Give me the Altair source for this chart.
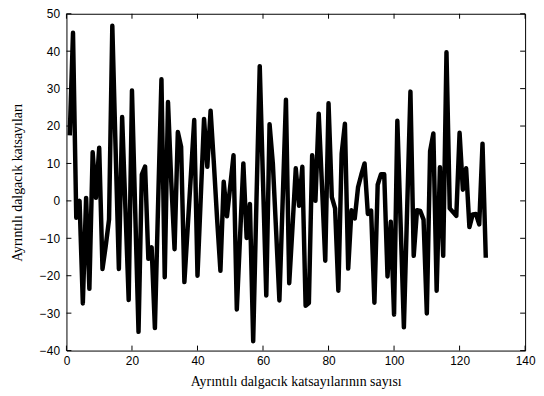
import altair as alt
import pandas as pd

index = list(range(1, 129))
coeffs = [17.5, 44.9, -4.5, 0.0, -27.4, 0.8, -23.5, 13.0, 0.8, 14.2,
          -18.2, -12.0, -5.0, 46.8, 14.0, -18.2, 22.4, -2.0, -26.5, 29.5,
          -3.0, -35.0, 7.0, 9.2, -15.5, -12.4, -34.0, 0.0, 32.5, -20.4,
          26.4, 5.0, -12.9, 18.4, 14.5, -21.7, -7.3, 7.1, 21.6, -20.0,
          1.0, 21.9, 9.1, 24.1, 10.0, -5.0, -18.7, 5.1, -4.1, 4.0,
          12.2, -29.0, -9.5, 10.0, -9.9, -0.8, -37.5, 0.0, 36.0, 5.0,
          -25.3, 20.5, 10.0, -8.0, -26.6, 0.0, 27.0, -22.0, -7.0, 8.7,
          -1.3, 9.1, -28.0, -27.3, 12.2, 0.0, 23.3, 4.0, -16.0, 26.1,
          1.0, -2.0, -24.0, 12.6, 20.6, -18.1, -2.5, -4.7, 3.6, 7.0,
          10.0, -3.5, -2.6, -27.2, 4.3, 7.1, 7.1, -20.2, -5.6, -30.4,
          21.4, -6.0, -33.8, -2.0, 29.2, -14.7, -2.5, -2.7, -5.0, -30.1,
          13.3, 18.0, -24.0, 9.0, -14.7, 39.7, -2.0, -3.0, -4.0, 18.2,
          3.0, 8.7, -7.0, -3.6, -3.5, -6.3, 15.3, -15.2]

x_ticks = [0, 20, 40, 60, 80, 100, 120, 140]
y_ticks = [-40, -30, -20, -10, 0, 10, 20, 30, 40, 50]

W, H = 463, 340
TL = 5

df = pd.DataFrame({"n": index, "c": coeffs})
xt = pd.DataFrame({"n": x_ticks})
yt = pd.DataFrame({"c": y_ticks})

xs = alt.Scale(domain=[0, 140], nice=False, zero=False)
ys = alt.Scale(domain=[-40, 50], nice=False, zero=False)

x_axis = alt.Axis(values=x_ticks, title="Ayrıntılı dalgacık katsayılarının sayısı",
                  labelPadding=5, labelFlush=False, labelOverlap=False,
                  titleY=31, titleBaseline="middle")
y_axis = alt.Axis(values=y_ticks, title="Ayrıntılı dalgacık katsayıları",
                  labelPadding=7, labelOverlap=False,
                  titleX=-49, titleY=H / 2, titleBaseline="middle")

X = alt.X("n:Q", scale=xs, axis=x_axis)
Y = alt.Y("c:Q", scale=ys, axis=y_axis)

line = alt.Chart(df).mark_line(color="black", strokeWidth=4.5, strokeJoin="round").encode(x=X, y=Y)

rule = dict(color="black", strokeWidth=1)
bot = alt.Chart(xt).mark_rule(**rule).encode(x=X, y=alt.value(H), y2=alt.value(H - TL))
top = alt.Chart(xt).mark_rule(**rule).encode(x=X, y=alt.value(0), y2=alt.value(TL))
left = alt.Chart(yt).mark_rule(**rule).encode(y=Y, x=alt.value(0), x2=alt.value(TL))
right = alt.Chart(yt).mark_rule(**rule).encode(y=Y, x=alt.value(W), x2=alt.value(W - TL))

chart = alt.layer(line, bot, top, left, right).properties(
    width=W, height=H,
    autosize=alt.AutoSizeParams(type="none"),
    padding={"left": 59, "top": 4, "right": 11, "bottom": 40},
).configure_view(
    stroke="black", strokeWidth=1
).configure_axis(
    grid=False, domain=False, ticks=False,
    labelFont="Liberation Sans", labelFontSize=12, labelColor="black",
    titleFont="Liberation Serif", titleFontSize=14, titleFontWeight="normal", titleColor="black",
)

chart.save("out.html", embed_options={"renderer": "svg", "actions": False})
